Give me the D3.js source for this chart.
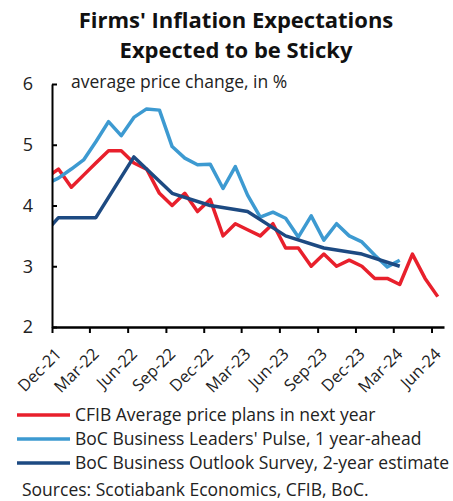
<!DOCTYPE html>
<html>
<head>
<meta charset="utf-8">
<script src="https://cdn.jsdelivr.net/npm/d3@7"></script>
<style>
  html, body { margin: 0; padding: 0; background: #fff; }
  svg { display: block; font-family: "Open Sans", "Noto Sans", sans-serif; }
</style>
</head>
<body>
<svg id="chart" width="453" height="501"></svg>
<script>
// Monthly survey readings, starting one month before the visible window (Nov-21)
const firstMonth = "Nov-21";

// CFIB Business Barometer: average price plans in next year, Nov-21 .. Jun-24
const cfib = [4.45, 4.6, 4.3, 4.5, 4.7, 4.9, 4.9, 4.7, 4.6, 4.2, 4.0, 4.2,
              3.9, 4.1, 3.5, 3.7, 3.6, 3.5, 3.7, 3.3, 3.3, 3.0, 3.2, 3.0,
              3.1, 3.0, 2.8, 2.8, 2.7, 3.2, 2.8, 2.5];

// BoC Business Leaders' Pulse, 1 year-ahead, Nov-21 .. Mar-24
const blp = [4.35, 4.45, 4.6, 4.75, 5.05, 5.38, 5.15, 5.45, 5.59, 5.57, 4.97, 4.78,
             4.67, 4.68, 4.28, 4.64, 4.17, 3.81, 3.89, 3.79, 3.48, 3.83, 3.43, 3.7,
             3.5, 3.4, 3.18, 2.99, 3.1];

// BoC Business Outlook Survey, 2-year estimate (quarterly)
const bosQuarters = ["Sep-21", "Dec-21", "Mar-22", "Jun-22", "Sep-22", "Dec-22",
                     "Mar-23", "Jun-23", "Sep-23", "Dec-23", "Mar-24"];
const bos = [3.1, 3.8, 3.8, 4.8, 4.2, 4.0, 3.9, 3.5, 3.3, 3.2, 3.0];

const tickLabels = ["Dec-21", "Mar-22", "Jun-22", "Sep-22", "Dec-22", "Mar-23",
                    "Jun-23", "Sep-23", "Dec-23", "Mar-24", "Jun-24"];
const yTicks = [2, 3, 4, 5, 6];

const seriesNames = ["CFIB Average price plans in next year",
                     "BoC Business Leaders' Pulse, 1 year-ahead",
                     "BoC Business Outlook Survey, 2-year estimate"];
const colors = ["#E8202C", "#3D9AD1", "#1D4A82"];

const parseMonth = d3.timeParse("%b-%y");
const fmtMonth = d3.timeFormat("%b-%y");

const svg = d3.select("#chart");
const plot = { left: 52, right: 444, top: 84, bottom: 327 };

const x = d3.scaleTime()
  .domain([parseMonth("Dec-21"), parseMonth("Jul-24")])
  .range([plot.left, plot.right]);
const y = d3.scaleLinear().domain([2, 6]).range([plot.bottom, plot.top]);

// each monthly value sits in the middle of its month
const midMonth = d => new Date((+d + +d3.timeMonth.offset(d, 1)) / 2);
const monthSeries = (vals) => {
  const start = parseMonth(firstMonth);
  return vals.map((v, i) => ({ date: midMonth(d3.timeMonth.offset(start, i)), value: v }));
};

const data = [
  monthSeries(cfib),
  monthSeries(blp),
  bosQuarters.map((m, i) => ({ date: midMonth(parseMonth(m)), value: bos[i] }))
];

// Title
const title = svg.append("text")
  .attr("text-anchor", "middle")
  .attr("font-weight", "bold")
  .attr("font-size", 22)
  .attr("fill", "#111");
title.append("tspan").attr("x", 236).attr("y", 28).text("Firms' Inflation Expectations");
title.append("tspan").attr("x", 236).attr("y", 58).text("Expected to be Sticky");

// Unit caption
svg.append("text")
  .attr("x", 71).attr("y", 88)
  .attr("font-size", 17.5)
  .attr("fill", "#222")
  .text("average price change, in %");

// Clip the lines to the plotting window
svg.append("clipPath").attr("id", "plotClip")
  .append("rect")
  .attr("x", plot.left).attr("y", 0)
  .attr("width", plot.right - plot.left).attr("height", 400);

const line = d3.line().x(d => x(d.date)).y(d => y(d.value));

svg.append("g").attr("clip-path", "url(#plotClip)")
  .selectAll("path")
  .data(data)
  .join("path")
  .attr("d", line)
  .attr("fill", "none")
  .attr("stroke", (d, i) => colors[i])
  .attr("stroke-width", 3.5)
  .attr("stroke-linejoin", "round");

// Y axis (ticks pointing into the plot)
const yAxis = svg.append("g")
  .attr("transform", `translate(${plot.left},0)`)
  .call(d3.axisLeft(y).tickValues(yTicks).tickFormat(d3.format("d"))
    .tickSizeInner(-5).tickSizeOuter(0).tickPadding(19));
yAxis.select(".domain").attr("stroke", "#000").attr("stroke-width", 2);
yAxis.selectAll(".tick line").attr("stroke", "#000").attr("stroke-width", 2);
yAxis.selectAll(".tick text")
  .attr("font-size", 18).attr("fill", "#222")
  .attr("font-family", "\"Open Sans\", sans-serif");

// X axis with rotated month labels
const xAxis = svg.append("g")
  .attr("transform", `translate(0,${plot.bottom})`)
  .call(d3.axisBottom(x).tickValues(tickLabels.map(parseMonth)).tickFormat(fmtMonth)
    .tickSizeInner(6).tickSizeOuter(0));
xAxis.select(".domain").attr("stroke", "#000").attr("stroke-width", 2.5);
xAxis.selectAll(".tick line").attr("stroke", "#000").attr("stroke-width", 2);
xAxis.selectAll(".tick text")
  .attr("font-size", 16.5).attr("fill", "#222")
  .attr("font-family", "\"Open Sans\", sans-serif")
  .attr("x", 0).attr("y", 0).attr("dy", null)
  .attr("text-anchor", "end")
  .attr("transform", "translate(10,28) rotate(-45)");

// Legend
const legend = svg.append("g");
seriesNames.forEach((name, i) => {
  const ly = 415 + i * 24;
  legend.append("line")
    .attr("x1", 17).attr("x2", 70).attr("y1", ly).attr("y2", ly)
    .attr("stroke", colors[i]).attr("stroke-width", 3.5);
  legend.append("text")
    .attr("x", 75).attr("y", ly + 6)
    .attr("font-size", 17.5).attr("fill", "#222")
    .text(name);
});

svg.append("text")
  .attr("x", 22).attr("y", 496)
  .attr("font-size", 17.5).attr("fill", "#222")
  .text("Sources: Scotiabank Economics, CFIB, BoC.");
</script>
</body>
</html>
